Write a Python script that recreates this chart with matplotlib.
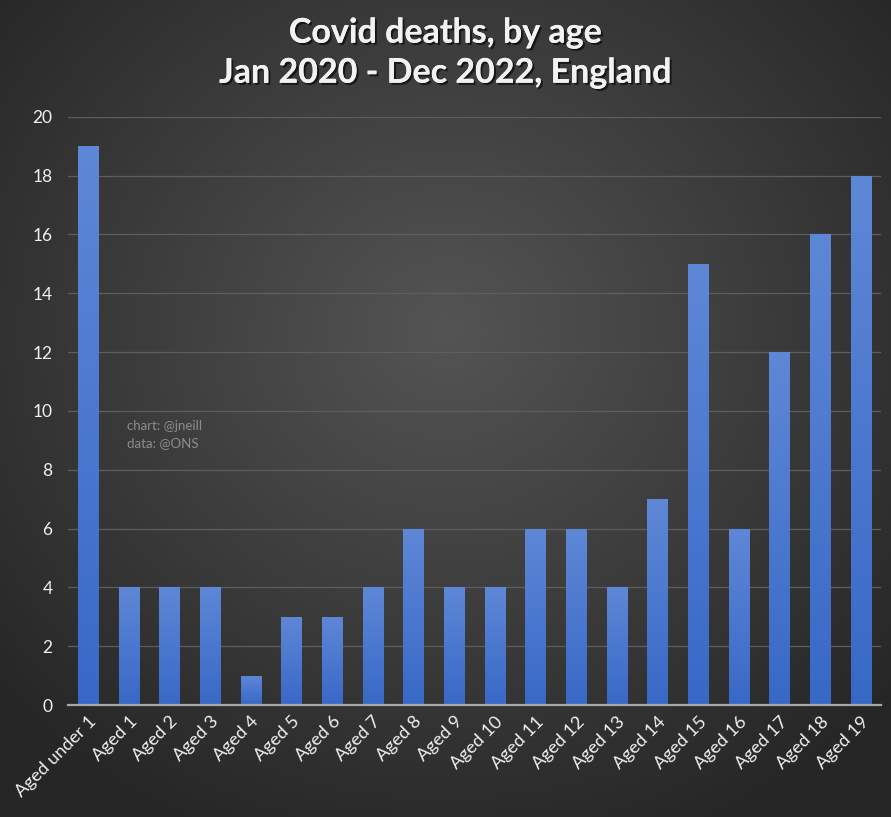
import numpy as np
import matplotlib
matplotlib.use("Agg")
import matplotlib.pyplot as plt
import matplotlib.patheffects as pe

ages = ["Aged under 1"] + [f"Aged {i}" for i in range(1, 20)]
deaths = [19, 4, 4, 4, 1, 3, 3, 4, 6, 4, 4, 6, 6, 4, 7, 15, 6, 12, 16, 18]
yticks = [0, 2, 4, 6, 8, 10, 12, 14, 16, 18, 20]

plt.rcParams['font.family'] = ['Lato', 'DejaVu Sans']

fig = plt.figure(figsize=(8.91, 8.17), dpi=100)

# radial gradient background
bg = fig.add_axes([0, 0, 1, 1], zorder=-10)
yy, xx = np.mgrid[0:817, 0:891]
r = np.sqrt(((xx - 445) / 560.0) ** 2 + ((yy - 330) / 520.0) ** 2)
shade = np.clip(0.33 - 0.17 * r, 0.15, 0.33)
bg.imshow(np.dstack([shade] * 3), aspect='auto', extent=[0, 1, 0, 1])
bg.axis('off')

ax = fig.add_axes([0.076, 0.137, 0.913, 0.72])
ax.patch.set_alpha(0)
x = np.arange(len(ages))
bars = ax.bar(x, deaths, width=0.5, color='#4472c4', zorder=3)

# vertical gradient inside each bar
grad = np.linspace(0, 1, 256).reshape(-1, 1)
top = np.array([0.37, 0.53, 0.84])
bot = np.array([0.22, 0.41, 0.78])
cols = bot + (top - bot) * grad[:, :, None]
for b in bars:
    im = ax.imshow(cols, extent=[b.get_x(), b.get_x() + b.get_width(), 0, b.get_height()],
                   aspect='auto', origin='lower', zorder=4)
    im.set_clip_path(b)

ax.set_xlim(-0.5, len(ages) - 0.5)
ax.set_ylim(0, 20)
ax.set_yticks(yticks)
ax.set_xticks(x)
ax.set_xticklabels(ages, rotation=45, ha='right', rotation_mode='anchor')
ax.tick_params(axis='both', length=0, colors='#f0f0f0', labelsize=12.5)
ax.tick_params(axis='x', labelsize=13, pad=6)
ax.tick_params(axis='y', pad=11)
ax.grid(axis='y', color='#5e5e5e', linewidth=0.9, zorder=0)
for s in ['top', 'right', 'left']:
    ax.spines[s].set_visible(False)
ax.spines['bottom'].set_color('#a8a8a8')
ax.spines['bottom'].set_linewidth(1.6)
ax.spines['bottom'].set_zorder(5)

ax.text(0.95, 9.2, "chart: @jneill\ndata: @ONS", color='#8c8c8c', fontsize=9.5,
        linespacing=1.45, va='center', ha='left')

shadow = [pe.withSimplePatchShadow(offset=(1.5, -1.5), shadow_rgbFace='black', alpha=0.6), pe.Normal()]
fig.text(0.5, 0.960, "Covid deaths, by age", ha='center', va='center', color='#f2f2f2',
         fontsize=24.5, fontweight='bold', path_effects=shadow)
fig.text(0.5, 0.911, "Jan 2020 - Dec 2022, England", ha='center', va='center', color='#f2f2f2',
         fontsize=24.5, fontweight='bold', path_effects=shadow)

fig.savefig('out.png', dpi=100)
